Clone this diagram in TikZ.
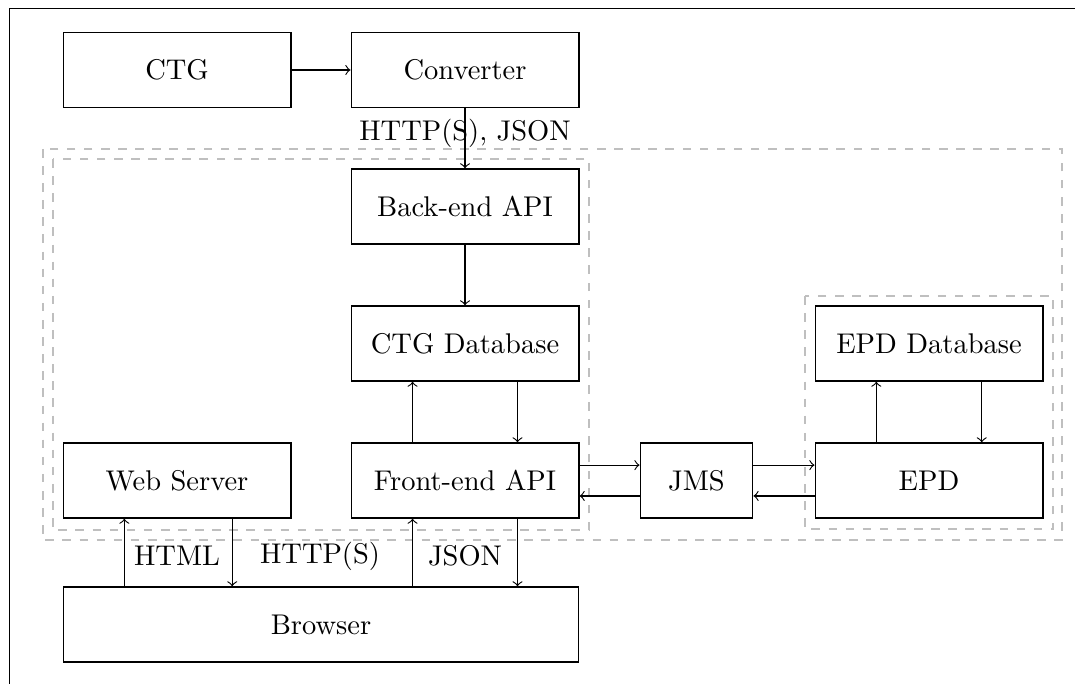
\documentclass[tikz,border=0pt]{standalone}
\usepackage{amsmath}
\usepackage{tikz}
\usepackage{xcolor}
\usetikzlibrary{fit, patterns}
\tikzset{
  box/.style={draw, rectangle, minimum width=2.81cm, minimum height=0.925cm, inner sep=0pt},
  group/.style={draw=black!25, dashed, thin}
}

\begin{document}
\begin{tikzpicture}
\useasboundingbox (0,0) rectangle (13.255,-8.422);
\draw (0.115,-8.5) -- (0.115,-0.1) -- (13.4,-0.1);
% groups
\draw[group] (0.530,-1.837) rectangle (13.095,-6.658);
\draw[group] (0.654,-1.961) rectangle (7.263,-6.535);
\draw[group] (9.926,-3.650) rectangle (12.984,-6.523);
% boxes
\node[box] (ctg) at (2.183,-0.863) {CTG};
\node[box] (conv) at (5.734,-0.863) {Converter};
\node[box] (back) at (5.734,-2.546) {Back-end API};
\node[box] (ctgdb) at (5.734,-4.236) {CTG Database};
\node[box] (front) at (5.734,-5.925) {Front-end API};
\node[box] (web) at (2.183,-5.925) {Web Server};
\node[box, minimum width=6.36cm] (browser) at (3.958,-7.700) {Browser};
\node[box, minimum width=1.39cm] (jms) at (8.588,-5.925) {JMS};
\node[box] (epd) at (11.455,-5.925) {EPD};
\node[box] (epddb) at (11.455,-4.236) {EPD Database};
% labels
\node (lconv) at (5.734,-1.640) {HTTP(S), JSON};
\node (lhtml) at (2.183,-6.856) {HTML};
\node (lhttp) at (3.946,-6.856) {HTTP(S)};
\node (ljson) at (5.734,-6.856) {JSON};
% arrows
\draw[->] (ctg) -- (conv);
\draw[->] (conv) -- (back);
\draw[->] (back) -- (ctgdb);
\draw[->] ([xshift=-0.647cm]front.north) -- ([xshift=-0.647cm]ctgdb.south);
\draw[->] ([xshift=0.647cm]ctgdb.south) -- ([xshift=0.647cm]front.north);
\draw[->] ([yshift=0.19cm]front.east) -- ([yshift=0.19cm]jms.west);
\draw[->] ([yshift=-0.19cm]jms.west) -- ([yshift=-0.19cm]front.east);
\draw[->] ([yshift=0.19cm]jms.east) -- ([yshift=0.19cm]epd.west);
\draw[->] ([yshift=-0.19cm]epd.west) -- ([yshift=-0.19cm]jms.east);
\draw[->] ([xshift=-0.65cm]epd.north) -- ([xshift=-0.65cm]epddb.south);
\draw[->] ([xshift=0.65cm]epddb.south) -- ([xshift=0.65cm]epd.north);
\draw[->] ([xshift=-0.65cm]web.south |- browser.north) -- ([xshift=-0.65cm]web.south);
\draw[->] ([xshift=0.68cm]web.south) -- ([xshift=0.68cm]web.south |- browser.north);
\draw[->] ([xshift=-0.647cm]front.south |- browser.north) -- ([xshift=-0.647cm]front.south);
\draw[->] ([xshift=0.647cm]front.south) -- ([xshift=0.647cm]front.south |- browser.north);
\end{tikzpicture}
\end{document}
